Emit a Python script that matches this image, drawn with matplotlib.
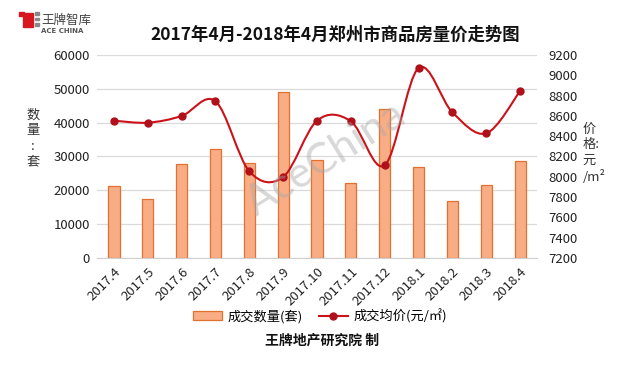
import numpy as np
import matplotlib.pyplot as plt
from matplotlib.path import Path
from matplotlib.patches import PathPatch, Rectangle
from matplotlib.lines import Line2D
from matplotlib.patches import Patch

plt.rcParams['font.family'] = ['Noto Sans CJK SC', 'DejaVu Sans']

# === 数据 ===
months = ["2017.4", "2017.5", "2017.6", "2017.7", "2017.8", "2017.9", "2017.10",
          "2017.11", "2017.12", "2018.1", "2018.2", "2018.3", "2018.4"]
volume = [21300, 17300, 27800, 32300, 28000, 49000, 29100,
          22300, 43900, 26800, 16950, 21700, 28600]
price = [8553, 8533, 8599, 8744, 8054, 7998, 8553,
         8547, 8113, 9072, 8635, 8428, 8845]

bar_face = "#F9AD85"
bar_edge = "#E2702E"
line_red = "#CC1219"
dot_red = "#B0101A"

fig = plt.figure(figsize=(6.4, 3.65), dpi=100)
ax = fig.add_axes([0.1516, 0.2932, 0.6875, 0.5561])
ax2 = ax.twinx()

x = np.arange(len(months))
ax.bar(x, volume, width=0.33, color=bar_face, edgecolor=bar_edge, linewidth=0.9, zorder=2)
ax.set_xlim(-0.5, len(months) - 0.5)
ax.set_ylim(0, 60000)
ax.set_yticks(range(0, 60001, 10000))
ax.grid(axis="y", color="#DADADA", linewidth=0.9, zorder=0)
ax.set_axisbelow(True)
ax.set_xticks(x)
ax.set_xticklabels(months, rotation=45, ha="right", rotation_mode="anchor", fontsize=9.5, color="#222222")
ax.tick_params(axis="both", length=0, pad=5)
ax.tick_params(axis="y", labelsize=9.5, colors="#222222")
for s in ["top", "right", "left"]:
    ax.spines[s].set_visible(False)
ax.spines["bottom"].set_color("#D0D0D0")

# === 平滑曲线（Catmull-Rom -> Bezier） ===
pts = np.column_stack([x, price]).astype(float)
ext = np.vstack([pts[0], pts, pts[-1]])
verts = [tuple(pts[0])]
codes = [Path.MOVETO]
for i in range(len(pts) - 1):
    p0, p1, p2, p3 = ext[i], ext[i + 1], ext[i + 2], ext[i + 3]
    c1 = p1 + (p2 - p0) / 6.0
    c2 = p2 - (p3 - p1) / 6.0
    verts += [tuple(c1), tuple(c2), tuple(p2)]
    codes += [Path.CURVE4] * 3
ax2.add_patch(PathPatch(Path(verts, codes), facecolor="none", edgecolor=line_red, linewidth=1.5, zorder=3))
ax2.plot(x, price, linestyle="none", marker="o", markersize=5, color=dot_red, zorder=4)
ax2.set_ylim(7200, 9200)
ax2.set_yticks(range(7200, 9201, 200))
ax2.tick_params(axis="y", length=0, pad=8, labelsize=9.5, colors="#222222")
for s in ["top", "right", "left", "bottom"]:
    ax2.spines[s].set_visible(False)

# === 轴标题（竖排） ===
fig.text(0.052, 0.62, "数\n量\n:\n套", ha="center", va="center", fontsize=9.5, color="#333333", linespacing=1.25)
fig.text(0.91, 0.58, "价\n格:\n元\n/m²", ha="left", va="center", fontsize=9.5, color="#333333", linespacing=1.25)

# === 水印 ===
fig.text(0.51, 0.565, "AceChina", ha="center", va="center", fontsize=31, color="#A8A8A8",
         alpha=0.45, rotation=32, family="Lato")

# === 标题 ===
fig.text(0.523, 0.905, "2017年4月-2018年4月郑州市商品房量价走势图", ha="center", va="center",
         fontsize=12.5, color="#111111", fontweight="bold")

# === Logo ===
fig.patches.append(Rectangle((0.036, 0.925), 0.016, 0.04, transform=fig.transFigure, color="#D7171F"))
fig.patches.append(Rectangle((0.030, 0.955), 0.008, 0.012, transform=fig.transFigure, color="#D7171F"))
for yy in [0.958, 0.944, 0.930]:
    fig.patches.append(Rectangle((0.054, yy), 0.007, 0.008, transform=fig.transFigure, color="#888888"))
fig.text(0.064, 0.945, "王牌智库", ha="left", va="center", fontsize=9, color="#444444")
fig.text(0.064, 0.915, "ACE CHINA", ha="left", va="center", fontsize=5, color="#555555",
         fontweight="bold", family="DejaVu Sans")

# === 图例 ===
handles = [Patch(facecolor=bar_face, edgecolor=bar_edge, linewidth=0.9),
           Line2D([0], [0], color=line_red, linewidth=1.5, marker="o", markersize=5,
                  markerfacecolor=dot_red, markeredgecolor=dot_red)]
fig.legend(handles, ["成交数量(套)", "成交均价(元/㎡)"], loc="center", bbox_to_anchor=(0.5, 0.134),
           ncol=2, frameon=False, fontsize=9.5, handlelength=2.2, columnspacing=1.2, handletextpad=0.4)

# === 脚注 ===
fig.text(0.503, 0.068, "王牌地产研究院 制", ha="center", va="center", fontsize=10,
         fontweight="bold", color="#111111")

fig.savefig("out.png", dpi=100)
